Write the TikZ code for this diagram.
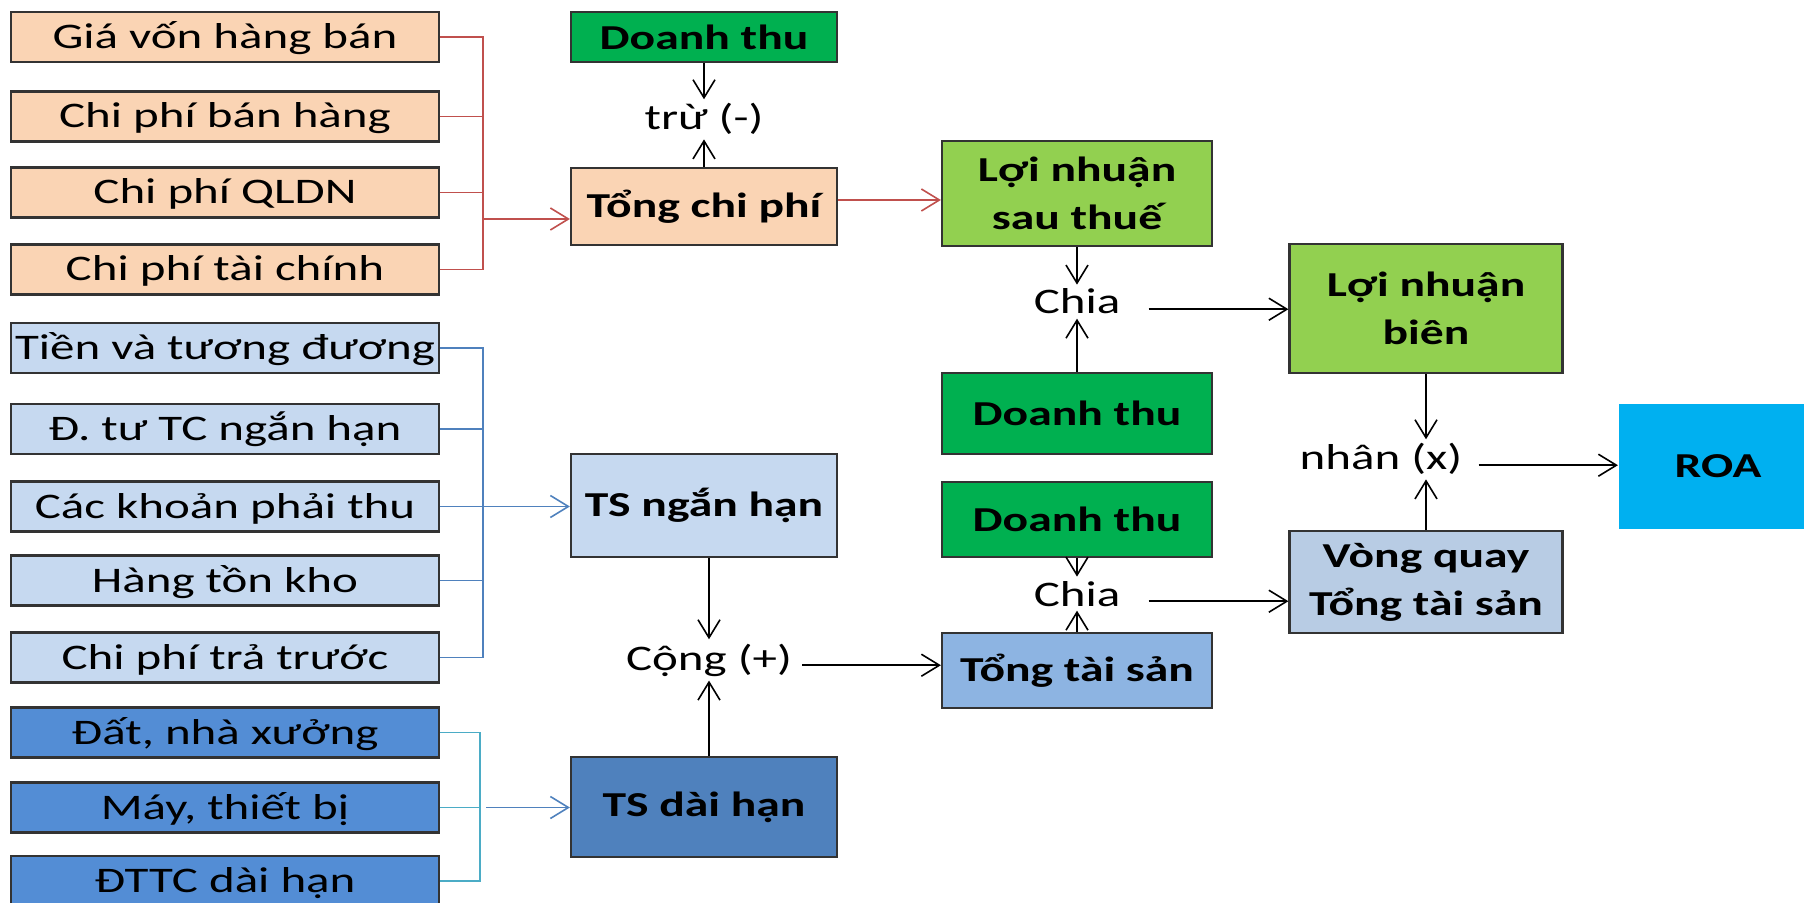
\documentclass[tikz,border=0pt]{standalone}
\usepackage{fontspec}
\setmainfont{Carlito}[FakeStretch=1.36]
\usetikzlibrary{arrows.meta}
\definecolor{COST-PEACH}{RGB}{250,212,180}
\definecolor{ASSET-PALE}{RGB}{198,217,240}
\definecolor{ASSET-MID}{RGB}{83,141,213}
\definecolor{ASSET-DARK}{RGB}{79,129,189}
\definecolor{REV-GREEN}{RGB}{0,176,80}
\definecolor{PROFIT-GREEN}{RGB}{146,208,80}
\definecolor{TOTAL-BLUE}{RGB}{141,180,226}
\definecolor{TURN-BLUE}{RGB}{184,204,228}
\definecolor{ROA-CYAN}{RGB}{0,176,240}
\definecolor{LINK-RED}{RGB}{192,80,77}
\definecolor{LINK-BLUE}{RGB}{79,129,189}
\definecolor{LINK-TEAL}{RGB}{75,172,198}

\begin{document}
\begin{tikzpicture}[x=0.5pt, y=-0.5pt,
  item/.style={draw=black!80, line width=1.1pt, inner sep=0pt,
    minimum width=214pt, minimum height=25pt, text height=1.3em, text depth=0.15em,
    font=\fontsize{18}{22}\selectfont},
  sum/.style={draw=black!80, line width=1.1pt, inner sep=0pt, align=center,
    font=\fontsize{17.5}{24}\selectfont\bfseries},
  op/.style={anchor=base, inner xsep=3pt, inner ysep=2pt, font=\fontsize{18}{22}\selectfont},
  link/.style={line width=0.8pt},
  arr/.style={link, -{Straight Barb[length=9pt,width=11pt]}}]
  \useasboundingbox (0,0) rectangle (1804,903);
  \clip (0,0) rectangle (1804,903);

  % Cost items (left, peach)
  \node[item, fill=COST-PEACH] (c1) at (225,37) {Giá vốn hàng bán};
  \node[item, fill=COST-PEACH] (c2) at (225,116.5) {Chi phí bán hàng};
  \node[item, fill=COST-PEACH] (c3) at (225,192.5) {Chi phí QLDN};
  \node[item, fill=COST-PEACH] (c4) at (225,269.5) {Chi phí tài chính};

  % Short-term assets (left, pale blue)
  \node[item, fill=ASSET-PALE] (a1) at (225,348) {Tiền và tương đương};
  \node[item, fill=ASSET-PALE] (a2) at (225,429) {Đ. tư TC ngắn hạn};
  \node[item, fill=ASSET-PALE] (a3) at (225,506.5) {Các khoản phải thu};
  \node[item, fill=ASSET-PALE] (a4) at (225,580.5) {Hàng tồn kho};
  \node[item, fill=ASSET-PALE] (a5) at (225,657.5) {Chi phí trả trước};

  % Long-term assets (left, mid blue)
  \node[item, fill=ASSET-MID] (l1) at (225,732.5) {Đất, nhà xưởng};
  \node[item, fill=ASSET-MID] (l2) at (225,807.5) {Máy, thiết bị};
  \node[item, fill=ASSET-MID] (l3) at (225,881) {ĐTTC dài hạn};

  % Second column
  \node[sum, fill=REV-GREEN, minimum width=133pt, minimum height=25pt] (dt1) at (704,37) {Doanh thu};
  \node[op] (sub) at (704,130) {trừ (-)};
  \node[sum, fill=COST-PEACH, minimum width=133pt, minimum height=38.5pt] (tcp) at (704,206.5) {Tổng chi phí};
  \node[sum, fill=ASSET-PALE, minimum width=133pt, minimum height=51.5pt] (tsnh) at (704,505.5) {TS ngắn hạn};
  \node[op] (plus) at (709,670) {Cộng (+)};
  \node[sum, fill=ASSET-DARK, minimum width=133pt, minimum height=50pt] (tsdh) at (704,807) {TS dài hạn};

  % Third column
  \node[sum, fill=PROFIT-GREEN, minimum width=135pt, minimum height=52.5pt] (lnst) at (1077,193.5) {Lợi nhuận\\sau thuế};
  \node[op] (div1) at (1077,314) {Chia};
  \node[sum, fill=REV-GREEN, minimum width=135pt, minimum height=40.5pt] (dt2) at (1077,413.5) {Doanh thu};
  \node[sum, fill=REV-GREEN, minimum width=135pt, minimum height=37.5pt] (dt3) at (1077,519.5) {Doanh thu};
  \node[op] (div2) at (1077,606) {Chia};
  \node[sum, fill=TOTAL-BLUE, minimum width=135pt, minimum height=37.5pt] (tts) at (1077,670.5) {Tổng tài sản};

  % Fourth column and result
  \node[sum, fill=PROFIT-GREEN, minimum width=136.5pt, minimum height=64.5pt] (lnb) at (1426,308.5) {Lợi nhuận\\biên};
  \node[op] (mul) at (1381,470) {nhân (x)};
  \node[sum, fill=TURN-BLUE, minimum width=136.5pt, minimum height=51pt] (vq) at (1426,582) {Vòng quay\\Tổng tài sản};
  \node[sum, draw=none, fill=ROA-CYAN, minimum width=99pt, minimum height=62.5pt] (roa) at (1718,466.5) {ROA};

  % Brackets on the left
  \coordinate (cbus) at (483,219);
  \coordinate (abus) at (483,506.5);
  \coordinate (lbus) at (480,807.5);
  \coordinate (lout) at (486,807.5);

  \draw[link, LINK-RED] (c1.east) -| (cbus |- c4.east) -- (c4.east);
  \draw[link, LINK-RED] (c2.east) -- (c2.east -| cbus);
  \draw[link, LINK-RED] (c3.east) -- (c3.east -| cbus);
  \draw[arr, LINK-RED] (cbus) -- (cbus -| tcp.west);

  \draw[link, LINK-BLUE] (a1.east) -| (abus |- a5.east) -- (a5.east);
  \draw[link, LINK-BLUE] (a2.east) -- (a2.east -| abus);
  \draw[link, LINK-BLUE] (a4.east) -- (a4.east -| abus);
  \draw[arr, LINK-BLUE] (a3.east) -- (a3.east -| tsnh.west);

  \draw[link, LINK-TEAL] (l1.east) -| (lbus |- l3.east) -- (l3.east);
  \draw[link, LINK-TEAL] (l2.east) -- (lbus);
  \draw[arr, LINK-BLUE] (lout) -- (lout -| tsdh.west);

  % Arithmetic arrows
  \draw[arr] (dt1) -- (sub);
  \draw[arr] (tcp) -- (sub);
  \draw[arr, LINK-RED] ([yshift=3.25pt]tcp.east) -- ([yshift=3.25pt]tcp.east -| lnst.west);
  \draw[arr] (plus.north |- tsnh.south) -- (plus.north);
  \draw[arr] (plus.south |- tsdh.north) -- (plus.south);
  \draw[arr, shorten <=2pt] (plus.mid east) -- (plus.mid east -| tts.west);

  \draw[arr] (lnst) -- (div1);
  \draw[arr] (dt2) -- (div1);
  \draw[arr, shorten <=11pt] (div1.mid east) -- (div1.mid east -| lnb.west);
  \draw[arr] (dt3) -- (div2);
  \draw[arr] (tts) -- (div2);
  \draw[arr, shorten <=11pt] (div2.mid east) -- (div2.mid east -| vq.west);

  \draw[arr] (lnb.south) -- (lnb.south |- mul.north);
  \draw[arr] (vq.north) -- (vq.north |- mul.south);
  \draw[arr, shorten <=5pt] (mul.mid east) -- (mul.mid east -| roa.west);
\end{tikzpicture}
\end{document}
